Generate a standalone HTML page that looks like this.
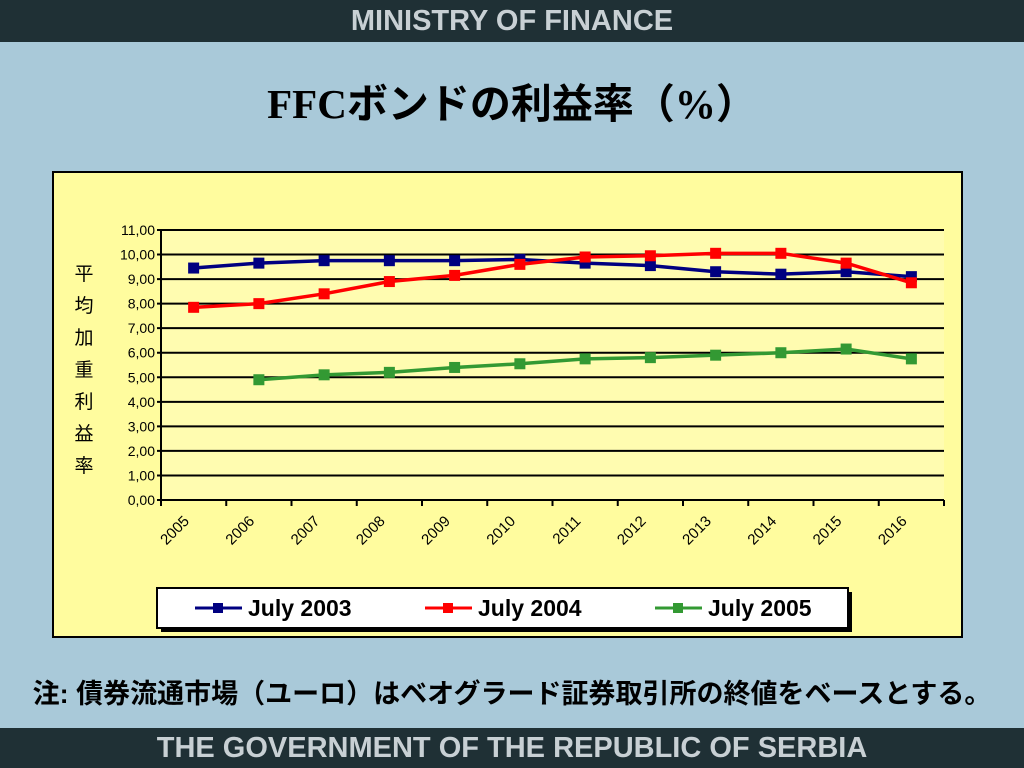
<!DOCTYPE html>
<html><head><meta charset="utf-8"><style>
body{margin:0;width:1024px;height:768px;overflow:hidden;background:#a9c9d9;font-family:"Liberation Sans","Noto Sans CJK JP",sans-serif;position:relative}
.bar{position:absolute;left:0;width:1024px;background:#1f3035;color:#c8d0d4;font-weight:bold;text-align:center}
</style></head><body>
<div class="bar" style="top:0;height:42px;line-height:42px;font-size:29px">MINISTRY OF FINANCE</div>
<div style="position:absolute;top:70px;left:0;width:1024px;text-align:center;font:bold 41px 'Liberation Serif','Noto Sans CJK JP',serif;color:#000">FFCボンドの利益率（%）</div>
<svg width="1024" height="768" style="position:absolute;left:0;top:0">
<rect x="53" y="172" width="909" height="465" fill="#fffc9e" stroke="#000" stroke-width="2"/>
<g id="plot"></g>
<g font-family="Liberation Sans,Noto Sans CJK JP,sans-serif" font-size="19">
<text x="84" y="280" text-anchor="middle">平</text><text x="84" y="312" text-anchor="middle">均</text><text x="84" y="344" text-anchor="middle">加</text><text x="84" y="376" text-anchor="middle">重</text><text x="84" y="408" text-anchor="middle">利</text><text x="84" y="440" text-anchor="middle">益</text><text x="84" y="472" text-anchor="middle">率</text>
</g>
<rect x="161" y="592" width="691" height="40" fill="#000"/>
<rect x="157" y="588" width="691" height="40" fill="#fff" stroke="#000" stroke-width="2"/>
<g id="legend" font-family="Liberation Sans,sans-serif" font-weight="bold" font-size="23"></g>
</svg>
<div style="position:absolute;top:672px;left:0;width:1024px;text-align:center;font-size:27px;font-weight:bold;color:#000;white-space:nowrap">注: 債券流通市場（ユーロ）はベオグラード証券取引所の終値をベースとする。</div>
<div class="bar" style="top:728px;height:40px;line-height:40px;font-size:29px">THE GOVERNMENT OF THE REPUBLIC OF SERBIA</div>
<script>
const categories=["2005","2006","2007","2008","2009","2010","2011","2012","2013","2014","2015","2016"];
const july2003=[9.45,9.65,9.75,9.75,9.75,9.8,9.65,9.55,9.3,9.2,9.3,9.1];
const july2004=[7.85,8.0,8.4,8.9,9.15,9.6,9.9,9.95,10.05,10.05,9.65,8.85];
const july2005=[null,4.9,5.1,5.2,5.4,5.55,5.75,5.8,5.9,6.0,6.15,5.75];
const yTicks=["0,00","1,00","2,00","3,00","4,00","5,00","6,00","7,00","8,00","9,00","10,00","11,00"];
const seriesNames=["July 2003","July 2004","July 2005"];
const colors=["#000080","#ff0000","#339933"];
const NS="http://www.w3.org/2000/svg";
const L=161,R=944,T=230,B=500,YMAX=11;
const bw=(R-L)/categories.length;
const xS=i=>L+bw*(i+0.5);
const yS=v=>B-(v/YMAX)*(B-T);
const g=document.getElementById('plot');
function mk(t,a,p){const e=document.createElementNS(NS,t);for(const k in a)e.setAttribute(k,a[k]);(p||g).appendChild(e);return e;}
mk('rect',{x:L,y:T,width:R-L,height:B-T,fill:'#fffcb0'});
yTicks.forEach((t,i)=>{
 const y=yS(i);
 const l=mk('line',{x1:L-4,x2:R,y1:y,y2:y,stroke:'#000','stroke-width':2});
 
 
 const tx=mk('text',{x:L-6,y:y+5,'text-anchor':'end','font-size':14,'font-family':'Liberation Sans,sans-serif'});
 tx.textContent=t;
 
 
});
mk('line',{x1:L,x2:L,y1:T,y2:B,stroke:'#000','stroke-width':2});
categories.forEach((c,i)=>{
 const x0=L+bw*i;
 mk('line',{x1:x0,x2:x0,y1:B,y2:B+6,stroke:'#000','stroke-width':2});
 const tx=mk('text',{x:x0+29,y:B+22,'text-anchor':'end','font-size':15,'font-family':'Liberation Sans,sans-serif',transform:`rotate(-45 ${x0+29} ${B+22})`});
 tx.textContent=c;
 
 
});
mk('line',{x1:R,x2:R,y1:B,y2:B+6,stroke:'#000','stroke-width':2});
[july2003,july2004,july2005].forEach((s,si)=>{
 let d='';
 s.forEach((v,i)=>{if(v==null)return;d+=(d?'L':'M')+xS(i)+' '+yS(v);});
 const p=mk('path',{d,fill:'none',stroke:colors[si],'stroke-width':3.5});
 
 
 s.forEach((v,i)=>{if(v==null)return;
  const r=mk('rect',{x:xS(i)-5.5,y:yS(v)-5.5,width:11,height:11,fill:colors[si]});
  
  
 });
});
const lg=document.getElementById('legend');
const lx=[195,425,655];
seriesNames.forEach((n,i)=>{
 const x=lx[i];
 mk('line',{x1:x,x2:x+47,y1:608,y2:608,stroke:colors[i],'stroke-width':3},lg);
 mk('rect',{x:x+18,y:603,width:10,height:10,fill:colors[i]},lg);
 const t=mk('text',{x:x+53,y:616},lg);
 t.textContent=n;
 
 
});
</script>
</body></html>
